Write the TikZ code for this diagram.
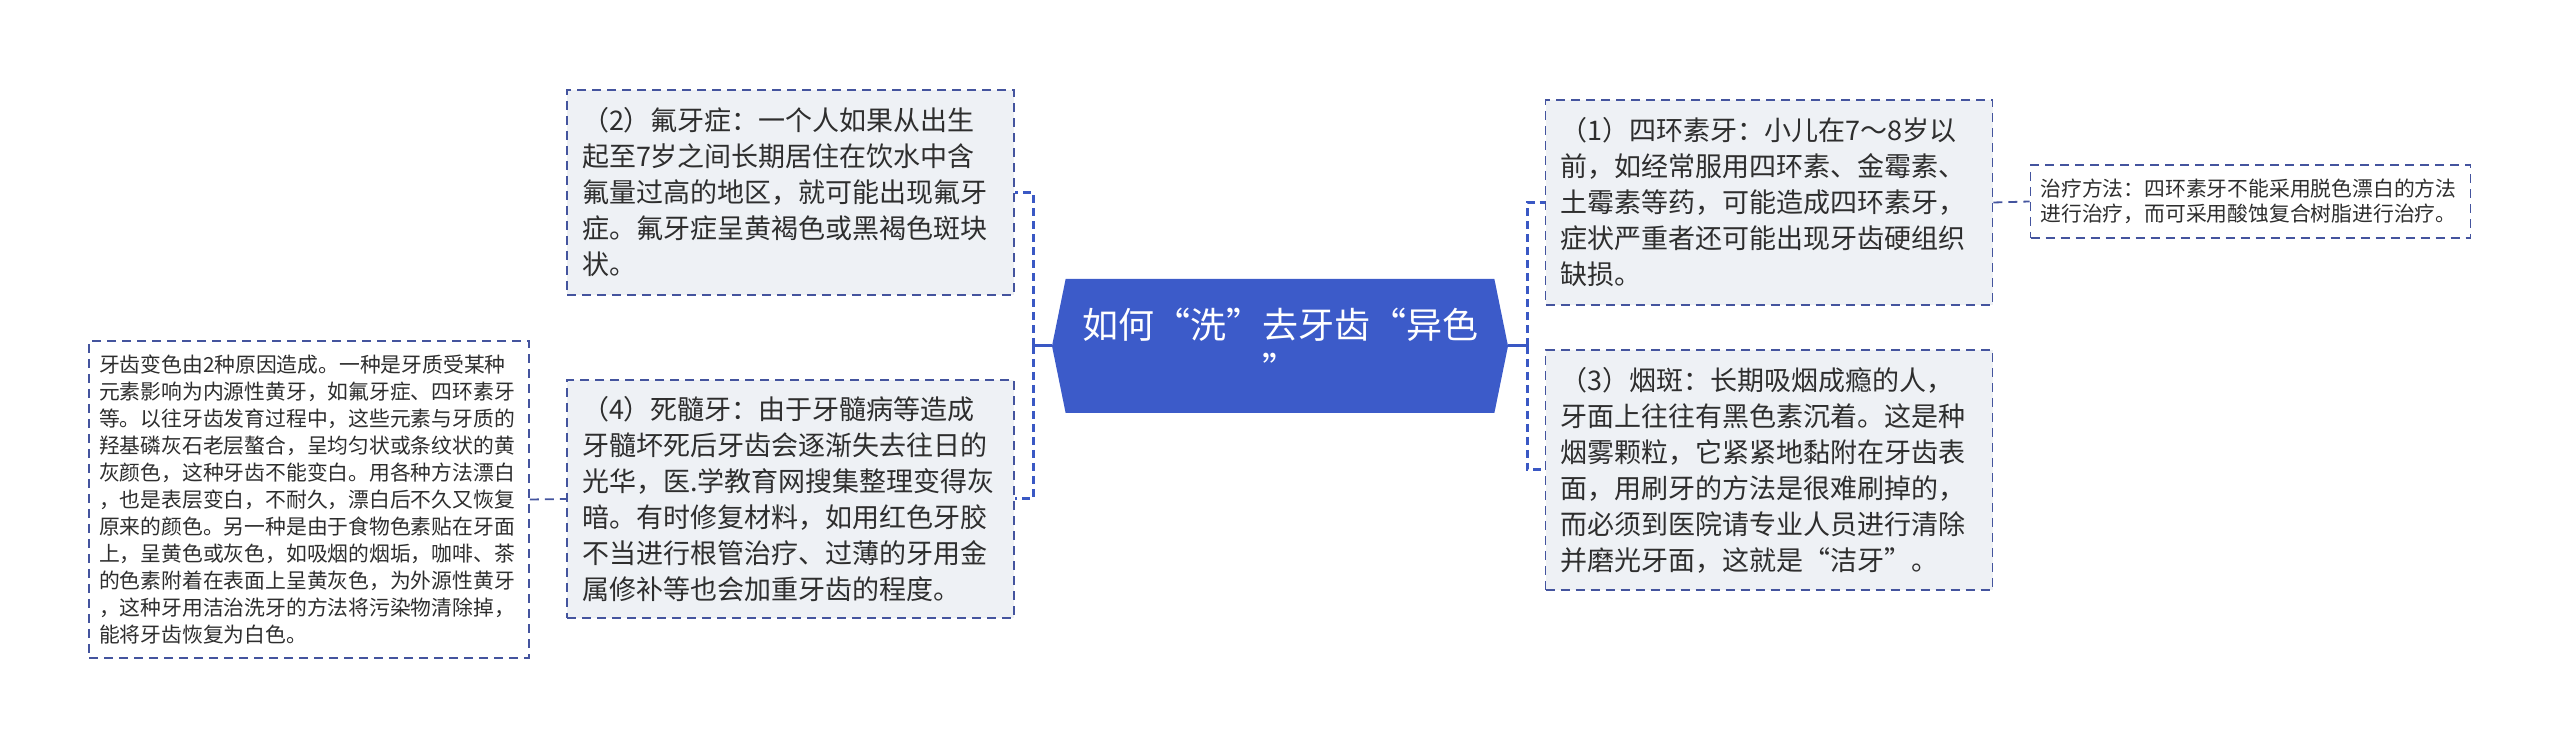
\documentclass[tikz,border=0pt]{standalone}
\usepackage{fontspec}
\newfontfamily\cjkfont{Noto Sans CJK SC}
\usetikzlibrary{shapes.symbols}
\definecolor{rootblue}{HTML}{3C5BC9}
\definecolor{linkblue}{HTML}{3A58C4}
\definecolor{boxline}{HTML}{44549E}
\definecolor{boxfill}{HTML}{EEF1F5}
\definecolor{textgray}{HTML}{2E2E2E}
\tikzset{
  rootnode/.style={signal, signal to=west and east, signal pointer angle=157,
    fill=rootblue, text=white, minimum width=228pt, minimum height=67pt,
    align=center, inner sep=0pt, font=\cjkfont\fontsize{18pt}{22.5pt}\selectfont},
  topic/.style={draw=boxline, fill=boxfill, line width=0.9pt,
    dash pattern=on 4.5pt off 3pt, text=textgray, align=left,
    text width=208.5pt, inner xsep=7.5pt, inner ysep=0pt,
    font=\cjkfont\fontsize{13.5pt}{18pt}\selectfont},
  note/.style={topic, fill=white, text width=210pt, inner xsep=5pt,
    font=\cjkfont\fontsize{10.4pt}{13.5pt}\selectfont},
  trunk/.style={linkblue, line width=1.5pt, dash pattern=on 4pt off 2.5pt},
  twig/.style={boxline, line width=0.9pt, dash pattern=on 4.5pt off 3pt},
}
\begin{document}
\begin{tikzpicture}[x=0.5pt, y=-0.5pt]
  \useasboundingbox (0,0) rectangle (2560,747);

  % centre
  \node[rootnode] (root) at (1280,346) {如何“洗”去牙齿“异色\\”};

  % left side
  \node[topic, minimum height=102.5pt] (fluoro) at (790.5,192.5) {%
    （2）氟牙症：一个人如果从出生\\
    起至7岁之间长期居住在饮水中含\\
    氟量过高的地区，就可能出现氟牙\\
    症。氟牙症呈黄褐色或黑褐色斑块\\
    状。};
  \node[topic, minimum height=119pt] (deadpulp) at (790.5,499) {%
    （4）死髓牙：由于牙髓病等造成\\
    牙髓坏死后牙齿会逐渐失去往日的\\
    光华，医.学教育网搜集整理变得灰\\
    暗。有时修复材料，如用红色牙胶\\
    不当进行根管治疗、过薄的牙用金\\
    属修补等也会加重牙齿的程度。};
  \node[note, minimum height=158.5pt] (cause) at (309,499.5) {%
    牙齿变色由2种原因造成。一种是牙质受某种\\
    元素影响为内源性黄牙，如氟牙症、四环素牙\\
    等。以往牙齿发育过程中，这些元素与牙质的\\
    羟基磷灰石老层螯合，呈均匀状或条纹状的黄\\
    灰颜色，这种牙齿不能变白。用各种方法漂白\\
    ，也是表层变白，不耐久，漂白后不久又恢复\\
    原来的颜色。另一种是由于食物色素贴在牙面\\
    上，呈黄色或灰色，如吸烟的烟垢，咖啡、茶\\
    的色素附着在表面上呈黄灰色，为外源性黄牙\\
    ，这种牙用洁治洗牙的方法将污染物清除掉，\\
    能将牙齿恢复为白色。};

  % right side
  \node[topic, minimum height=102.5pt] (tetra) at (1769,202.5) {%
    （1）四环素牙：小儿在7～8岁以\\
    前，如经常服用四环素、金霉素、\\
    土霉素等药，可能造成四环素牙，\\
    症状严重者还可能出现牙齿硬组织\\
    缺损。};
  \node[topic, minimum height=120pt] (smoke) at (1769,470) {%
    （3）烟斑：长期吸烟成瘾的人，\\
    牙面上往往有黑色素沉着。这是种\\
    烟雾颗粒，它紧紧地黏附在牙齿表\\
    面，用刷牙的方法是很难刷掉的，\\
    而必须到医院请专业人员进行清除\\
    并磨光牙面，这就是“洁牙”。};
  \node[note, minimum height=36.5pt, font=\cjkfont\fontsize{10.4pt}{12.5pt}\selectfont] (cure) at (2250.5,201.5) {%
    治疗方法：四环素牙不能采用脱色漂白的方法\\
    进行治疗，而可采用酸蚀复合树脂进行治疗。};

  % links
  \coordinate (jl) at (1033,346);
  \coordinate (jr) at (1527,346);
  \draw[linkblue, line width=1.5pt] (root.west) -- (jl);
  \draw[linkblue, line width=1.5pt] (root.east) -- (jr);
  \draw[trunk] (jl) |- (fluoro.east);
  \draw[trunk] (jl) |- (deadpulp.east);
  \draw[trunk] (jr) |- (tetra.west);
  \draw[trunk] (jr) |- (smoke.west);
  \draw[twig] (cause.east) -- (deadpulp.west);
  \draw[twig] (tetra.east) -- (cure.west);
\end{tikzpicture}
\end{document}
